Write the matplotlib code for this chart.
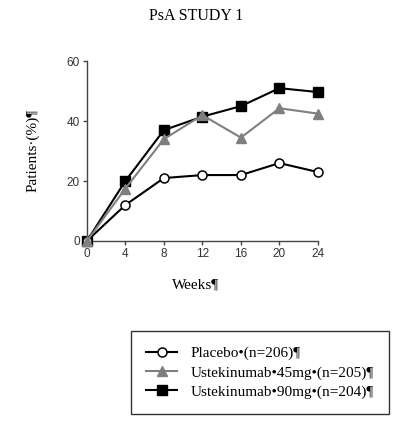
import matplotlib
matplotlib.use("Agg")
from matplotlib import pyplot as plt

weeks = [0, 4, 8, 12, 16, 20, 24]
placebo = [0, 12, 21, 22, 22, 26, 23]
uste45 = [0, 17.5, 34, 42, 34.5, 44.3, 42.5]
uste90 = [0, 20, 37, 41.5, 45, 51, 49.7]
yticks = [0, 20, 40, 60]

fig = plt.figure(figsize=(3.93, 4.25), dpi=100)
ax = fig.add_axes([0.221, 0.433, 0.588, 0.423])

ax.plot(weeks, placebo, color="black", lw=1.5, marker="o", markersize=6.5,
        markerfacecolor="white", markeredgecolor="black", markeredgewidth=1.1,
        label="Placebo\u2022(n=206)\u00b6", clip_on=False, zorder=3)
ax.plot(weeks, uste45, color="#7f7f7f", lw=1.5, marker="^", markersize=6.5,
        label="Ustekinumab\u202245mg\u2022(n=205)\u00b6", clip_on=False, zorder=4)
ax.plot(weeks, uste90, color="black", lw=1.5, marker="s", markersize=6.5,
        label="Ustekinumab\u202290mg\u2022(n=204)\u00b6", clip_on=False, zorder=2)

ax.set_xlim(0, 24)
ax.set_ylim(0, 60)
ax.set_xticks(weeks)
ax.set_yticks(yticks)
for s in ["top", "right"]:
    ax.spines[s].set_visible(False)
for s in ["left", "bottom"]:
    ax.spines[s].set_color("#444444")
    ax.spines[s].set_linewidth(1.0)
ax.tick_params(length=3, width=1, color="#444444", labelsize=8.5,
               labelcolor="#333333", pad=2)
for lab in ax.get_xticklabels() + ax.get_yticklabels():
    lab.set_fontfamily("Liberation Sans")

fig.text(0.5, 0.963, "PsA STUDY 1", ha="center", va="center",
         fontsize=11.5, family="Liberation Serif")
fig.text(0.497, 0.329, "Weeks\u00b6", ha="center", va="center",
         fontsize=11, family="Liberation Serif")
fig.text(0.083, 0.647, "Patients\u00b7(%)\u00b6", ha="center", va="center",
         rotation=90, fontsize=11, family="Liberation Serif")

leg = fig.legend(loc="center", bbox_to_anchor=(0.662, 0.123),
                 prop={"family": "Liberation Serif", "size": 11},
                 frameon=True, fancybox=False, edgecolor="black",
                 borderpad=1.0, handlelength=2.0, labelspacing=0.35,
                 handletextpad=0.9)
leg.get_frame().set_linewidth(1.0)

fig.savefig("out.png", dpi=100)
